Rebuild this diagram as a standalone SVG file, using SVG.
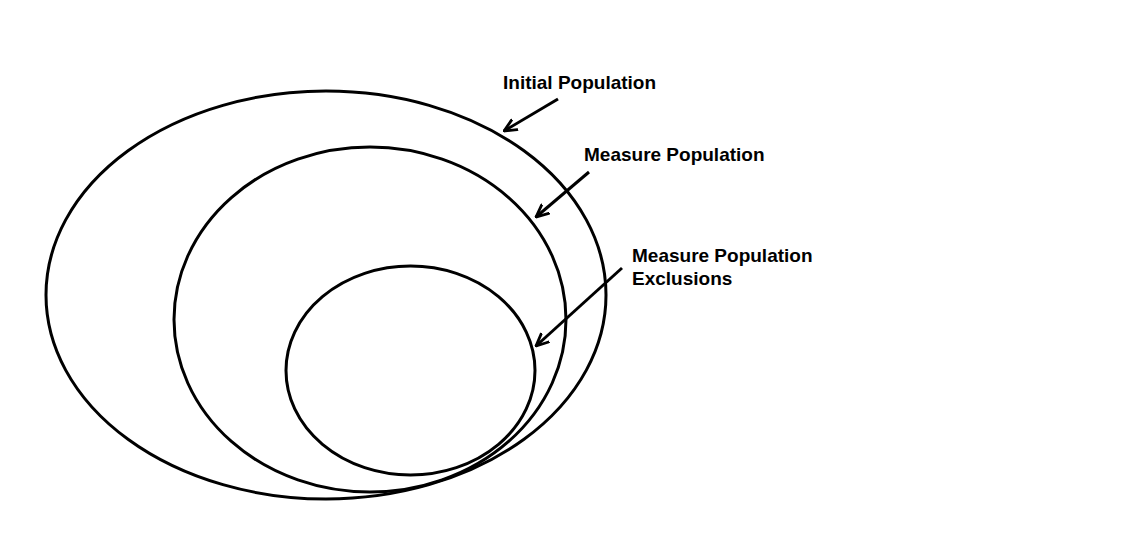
<svg xmlns="http://www.w3.org/2000/svg" width="1129" height="540" viewBox="0 0 1129 540">
<style>
.ring{fill:none;stroke:#000;stroke-width:3}
.lbl{font-family:"Liberation Sans",Arial,sans-serif;font-weight:bold;font-size:19px;fill:#000}
.con{fill:none;stroke:#000;stroke-width:3;marker-end:url(#arr)}
</style>
<defs>
<marker id="arr" viewBox="0 0 14 14" refX="13" refY="7" markerWidth="14" markerHeight="14" markerUnits="userSpaceOnUse" orient="auto">
<path d="M1,1.5 L13,7 L1,12.5" fill="none" stroke="#000" stroke-width="2.8" stroke-linecap="round" stroke-linejoin="miter"/>
</marker>
</defs>
<rect width="1129" height="540" fill="#fff"/>
<g id="initial-population">
<ellipse class="ring" cx="326" cy="295" rx="280" ry="204"/>
<text class="lbl" x="503" y="89">Initial Population</text>
</g>
<g id="measure-population">
<ellipse class="ring" cx="370" cy="319.5" rx="196" ry="172.5"/>
<text class="lbl" x="584" y="161">Measure Population</text>
</g>
<g id="measure-population-exclusions">
<ellipse class="ring" cx="410.5" cy="370.5" rx="124.5" ry="104.5"/>
<text class="lbl" x="632" y="262">Measure Population</text>
<text class="lbl" x="632" y="285">Exclusions</text>
</g>
<g id="connectors">
<line class="con" x1="558" y1="99" x2="504" y2="131"/>
<line class="con" x1="589" y1="172" x2="536" y2="217"/>
<line class="con" x1="622" y1="268" x2="536" y2="346"/>
</g>
</svg>
